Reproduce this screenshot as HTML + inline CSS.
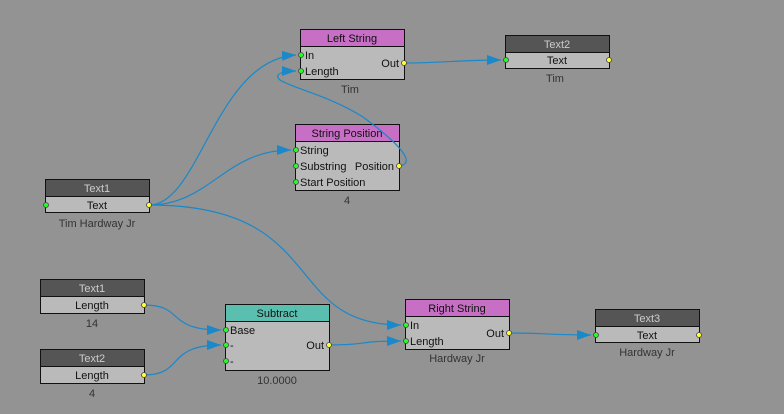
<!DOCTYPE html>
<html><head><meta charset="utf-8"><style>
html,body{margin:0;padding:0;background:#939393;}
svg{display:block;font-family:"Liberation Sans",sans-serif;}
.t{font-size:11px;fill:#111;}
.h{font-size:11px;}
.lbl{font-size:11px;fill:#333;text-anchor:middle;}
.w{fill:none;stroke:#1a88c9;stroke-width:1.2;}
</style></head><body>
<svg width="784" height="414" viewBox="0 0 784 414">
<defs>
<marker id="a" markerWidth="14" markerHeight="10" refX="14" refY="5" orient="auto" markerUnits="userSpaceOnUse">
<path d="M0,0 L14,5 L0,10 z" fill="#1a88c9"/></marker>
</defs>
<rect width="784" height="414" fill="#939393"/>

<rect x="300.5" y="29.5" width="104" height="50" fill="#bababa" stroke="#111"/>
<rect x="300.5" y="29.5" width="104" height="17" fill="#c66fc4" stroke="#111"/>
<text class="h" x="352" y="42" text-anchor="middle" fill="#111">Left String</text>
<text class="t" x="305" y="59">In</text><text class="t" x="305" y="75">Length</text>
<text class="t" x="399" y="67" text-anchor="end">Out</text>
<text class="lbl" x="350" y="93">Tim</text>

<rect x="505.5" y="35.5" width="104" height="33" fill="#bababa" stroke="#111"/>
<rect x="505.5" y="35.5" width="104" height="17" fill="#555" stroke="#111"/>
<text class="h" x="557" y="48" text-anchor="middle" fill="#ccc">Text2</text>
<text class="t" x="557" y="64" text-anchor="middle">Text</text>
<text class="lbl" x="555" y="82">Tim</text>

<rect x="295.5" y="124.5" width="104" height="66" fill="#bababa" stroke="#111"/>
<rect x="295.5" y="124.5" width="104" height="17" fill="#c66fc4" stroke="#111"/>
<text class="h" x="347" y="137" text-anchor="middle" fill="#111">String Position</text>
<text class="t" x="300" y="154">String</text><text class="t" x="300" y="170">Substring</text>
<text class="t" x="300" y="186">Start Position</text>
<text class="t" x="394" y="170" text-anchor="end">Position</text>
<text class="lbl" x="347" y="204">4</text>

<rect x="45.5" y="179.5" width="104" height="33" fill="#bababa" stroke="#111"/>
<rect x="45.5" y="179.5" width="104" height="17" fill="#555" stroke="#111"/>
<text class="h" x="97" y="192" text-anchor="middle" fill="#ccc">Text1</text>
<text class="t" x="97" y="209" text-anchor="middle">Text</text>
<text class="lbl" x="97" y="227">Tim Hardway Jr</text>

<rect x="40.5" y="279.5" width="104" height="34" fill="#bababa" stroke="#111"/>
<rect x="40.5" y="279.5" width="104" height="17" fill="#555" stroke="#111"/>
<text class="h" x="92" y="292" text-anchor="middle" fill="#ccc">Text1</text>
<text class="t" x="92" y="309" text-anchor="middle">Length</text>
<text class="lbl" x="92" y="327">14</text>

<rect x="40.5" y="349.5" width="104" height="34" fill="#bababa" stroke="#111"/>
<rect x="40.5" y="349.5" width="104" height="17" fill="#555" stroke="#111"/>
<text class="h" x="92" y="362" text-anchor="middle" fill="#ccc">Text2</text>
<text class="t" x="92" y="379" text-anchor="middle">Length</text>
<text class="lbl" x="92" y="397">4</text>

<rect x="225.5" y="304.5" width="104" height="66" fill="#bababa" stroke="#111"/>
<rect x="225.5" y="304.5" width="104" height="17" fill="#5bbfb0" stroke="#111"/>
<text class="h" x="277" y="317" text-anchor="middle" fill="#111">Subtract</text>
<text class="t" x="230" y="334">Base</text><text class="t" x="230" y="349">-</text><text class="t" x="230" y="365">-</text>
<text class="t" x="324" y="349" text-anchor="end">Out</text>
<text class="lbl" x="277" y="384">10.0000</text>

<rect x="405.5" y="299.5" width="104" height="50" fill="#bababa" stroke="#111"/>
<rect x="405.5" y="299.5" width="104" height="17" fill="#c66fc4" stroke="#111"/>
<text class="h" x="457" y="312" text-anchor="middle" fill="#111">Right String</text>
<text class="t" x="410" y="329">In</text><text class="t" x="410" y="345">Length</text>
<text class="t" x="504" y="337" text-anchor="end">Out</text>
<text class="lbl" x="457" y="362">Hardway Jr</text>

<rect x="595.5" y="309.5" width="104" height="33" fill="#bababa" stroke="#111"/>
<rect x="595.5" y="309.5" width="104" height="17" fill="#555" stroke="#111"/>
<text class="h" x="647" y="322" text-anchor="middle" fill="#ccc">Text3</text>
<text class="t" x="647" y="339" text-anchor="middle">Text</text>
<text class="lbl" x="647" y="356">Hardway Jr</text>

<path class="w" marker-end="url(#a)" d="M149,205 C200,205 215,60 296,55"/>
<path class="w" marker-end="url(#a)" d="M149,205 C210,205 225,150 291,150"/>
<path class="w" marker-end="url(#a)" d="M149,205 C330,205 280,325 401,325"/>
<path class="w" marker-end="url(#a)" d="M399,166 C415,164 405,148 363,117 C330,96 292,88 280,80 C273,74 283,71 296,71"/>
<path class="w" marker-end="url(#a)" d="M404,63 C440,63 460,60 501,60"/>
<path class="w" marker-end="url(#a)" d="M144,305 C185,305 165,330 221,330"/>
<path class="w" marker-end="url(#a)" d="M144,375 C185,375 165,345 221,345"/>
<path class="w" marker-end="url(#a)" d="M329,345 C370,345 355,341 401,341"/>
<path class="w" marker-end="url(#a)" d="M509,333 C545,333 550,335 591,335"/>

<g stroke="#444" stroke-width="0.8">
<g fill="#2f2">
<circle cx="301" cy="55" r="2.5"/><circle cx="301" cy="71" r="2.5"/>
<circle cx="506" cy="60" r="2.5"/>
<circle cx="296" cy="150" r="2.5"/><circle cx="296" cy="166" r="2.5"/><circle cx="296" cy="182" r="2.5"/>
<circle cx="46" cy="205" r="2.5"/>
<circle cx="226" cy="330" r="2.5"/><circle cx="226" cy="345" r="2.5"/><circle cx="226" cy="361" r="2.5"/>
<circle cx="406" cy="325" r="2.5"/><circle cx="406" cy="341" r="2.5"/>
<circle cx="596" cy="335" r="2.5"/>
</g>
<g fill="#ff3">
<circle cx="404" cy="63" r="2.5"/><circle cx="609" cy="60" r="2.5"/>
<circle cx="399" cy="166" r="2.5"/><circle cx="149" cy="205" r="2.5"/>
<circle cx="144" cy="305" r="2.5"/><circle cx="144" cy="375" r="2.5"/>
<circle cx="329" cy="345" r="2.5"/><circle cx="509" cy="333" r="2.5"/>
<circle cx="699" cy="335" r="2.5"/>
</g>
</g>
</svg>
</body></html>
